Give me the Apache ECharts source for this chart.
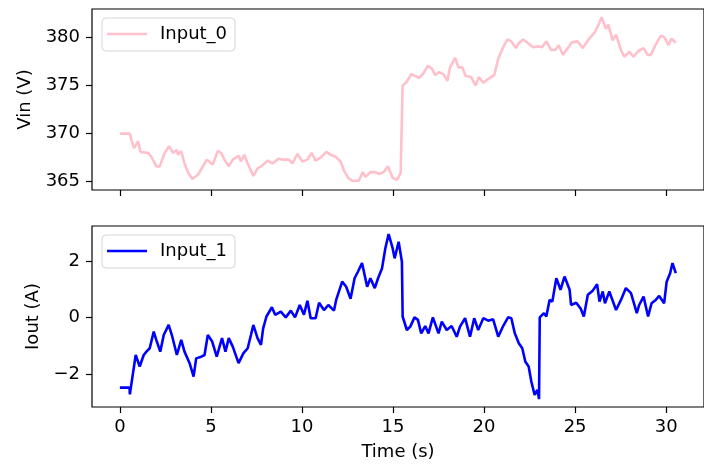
<!DOCTYPE html>
<html>
<head>
<meta charset="utf-8">
<script src="https://cdn.jsdelivr.net/npm/echarts@6/dist/echarts.min.js"></script>
<style>html,body{margin:0;padding:0;background:#fff;}#c{width:704px;height:464px;}</style>
</head>
<body>
<div id="c"></div>
<script>
// ---- data ----
const timeVin = [0,0.55,0.64,0.78,1.0,1.13,1.55,1.73,2.0,2.19,2.46,2.7,2.92,3.13,3.19,3.37,3.55,3.74,3.97,4.28,4.56,4.78,4.96,5.1,5.38,5.56,5.74,5.98,6.2,6.52,6.65,6.83,7.02,7.33,7.56,7.84,8.11,8.38,8.71,8.93,9.29,9.48,9.75,10.02,10.3,10.53,10.75,11.03,11.34,11.57,11.85,12.12,12.3,12.54,12.76,13.12,13.34,13.49,13.76,14.03,14.25,14.49,14.72,14.98,15.22,15.42,15.49,15.53,15.76,16.0,16.22,16.44,16.68,16.91,17.13,17.32,17.53,17.77,17.99,18.13,18.41,18.59,18.81,18.99,19.28,19.54,19.72,19.96,20.23,20.56,20.78,21.05,21.29,21.5,21.74,21.9,22.14,22.42,22.69,22.96,23.18,23.42,23.69,23.91,24.1,24.33,24.6,24.82,25.15,25.42,25.7,26.06,26.28,26.46,26.7,26.83,27.06,27.25,27.52,27.7,27.98,28.21,28.47,28.76,28.98,29.16,29.38,29.71,29.92,30.13,30.29,30.53];
const vin = [370.0,370.0,369.3,368.5,369.2,368.1,368.0,367.6,366.6,366.6,368.0,368.7,368.0,368.3,367.8,368.2,366.9,366.0,365.3,365.7,366.6,367.3,367.0,366.8,368.2,368.0,367.3,366.6,367.3,367.7,367.1,367.8,366.9,365.6,366.4,366.7,367.2,366.9,367.4,367.3,367.3,366.9,367.9,367.1,367.3,368.0,367.2,367.5,368.1,367.8,367.6,367.1,366.2,365.4,365.1,365.1,366.0,365.5,366.0,366.0,365.8,366.0,366.6,365.4,365.2,365.9,365.9,375.0,375.4,376.2,376.0,375.8,376.3,377.05,376.8,376.1,376.4,376.2,375.5,376.9,377.9,376.9,376.9,376.0,375.9,375.0,375.9,375.3,375.7,376.1,377.8,379.0,379.8,379.6,378.9,379.4,379.8,379.4,379.0,379.1,379.0,379.6,378.7,378.7,379.2,378.2,378.9,379.5,379.6,378.9,379.7,380.5,381.3,382.1,380.9,381.35,379.7,380.3,378.7,378.0,378.5,378.0,378.6,378.9,378.2,378.2,379.1,380.2,380.0,379.2,379.9,379.45];

const timeIout = [0,0.53,0.55,0.64,0.87,1.09,1.31,1.46,1.64,1.86,2.0,2.22,2.41,2.68,2.88,3.13,3.37,3.55,3.83,4.05,4.19,4.47,4.65,4.83,5.07,5.32,5.61,5.8,5.98,6.2,6.52,6.78,7.02,7.2,7.33,7.56,7.75,7.87,8.05,8.35,8.53,8.84,9.11,9.39,9.62,9.88,10.11,10.3,10.48,10.75,10.94,11.21,11.45,11.76,11.88,12.21,12.43,12.67,12.89,13.08,13.3,13.58,13.76,14.0,14.18,14.4,14.58,14.76,14.98,15.09,15.31,15.49,15.53,15.76,15.95,16.18,16.37,16.55,16.77,16.95,17.19,17.5,17.68,17.95,18.22,18.5,18.68,18.96,19.23,19.46,19.68,19.96,20.23,20.5,20.78,21.05,21.32,21.5,21.69,21.91,22.1,22.27,22.45,22.6,22.78,22.93,23.02,23.06,23.29,23.42,23.6,23.75,23.97,24.2,24.42,24.7,24.78,25.06,25.3,25.48,25.7,25.97,26.21,26.34,26.52,26.64,26.88,27.25,27.52,27.79,28.07,28.39,28.52,28.76,29.01,29.2,29.43,29.62,29.89,30.03,30.22,30.35,30.53];
const iout = [-2.49,-2.49,-2.73,-2.33,-1.33,-1.74,-1.33,-1.21,-1.09,-0.5,-0.79,-1.21,-0.62,-0.26,-0.68,-1.33,-0.79,-1.21,-1.62,-2.1,-1.45,-1.39,-1.33,-0.62,-0.85,-1.39,-0.73,-1.21,-0.73,-1.03,-1.62,-1.27,-1.09,-0.62,-0.26,-0.73,-0.97,-0.38,0.04,0.37,0.1,0.21,0.01,0.25,0.01,0.45,0.1,0.6,-0.02,-0.02,0.53,0.27,0.45,0.25,0.63,1.28,1.1,0.67,1.4,1.64,1.94,1.1,1.4,1.05,1.4,1.76,2.47,2.97,2.47,2.11,2.7,1.99,0.04,-0.44,-0.32,0.01,-0.08,-0.56,-0.3,-0.56,0.01,-0.56,-0.14,-0.44,-0.3,-0.68,-0.32,-0.02,-0.68,-0.02,-0.44,-0.02,-0.11,-0.06,-0.68,-0.3,0.01,-0.02,-0.56,-0.91,-1.09,-1.57,-1.74,-2.28,-2.75,-2.57,-2.9,0.01,0.16,0.04,0.63,0.57,1.4,0.99,1.46,0.99,0.45,0.53,0.33,0.04,0.81,0.96,1.19,0.57,0.93,0.51,0.93,0.27,0.63,1.05,0.87,0.16,0.45,0.75,0.04,0.51,0.63,0.77,0.51,1.28,1.58,1.94,1.58];

const xTicks = [0,5,10,15,20,25,30];
const vinTicks = [365,370,375,380];
const ioutTicks = [-2,0,2];
const seriesNames = ['Input_0','Input_1'];
const axisNames = {x:'Time (s)', vin:'Vin (V)', iout:'Iout (A)'};

// ---- chart ----
const FONT = 'DejaVu Sans';
const FS = 18;
const fmt = v => String(v).replace('-', '\u2212');
function pairs(xs, ys){ return xs.map((x,i)=>[x, ys[i]]); }

function xAxis(gi, showLabels){
  return {
    type:'value', gridIndex:gi, min:-1.53, max:32.08, position:'bottom',
    splitLine:{show:false},
    axisLine:{show:false, onZero:false},
    axisTick:{show:true, customValues:xTicks, length:6, inside:false, lineStyle:{color:'#000', width:1.2}},
    axisLabel:{show:showLabels, customValues:xTicks, formatter:fmt, margin:11, color:'#000', fontFamily:FONT, fontSize:FS},
    name: showLabels ? axisNames.x : '',
    nameLocation:'middle', nameGap:36,
    nameTextStyle:{color:'#000', fontFamily:FONT, fontSize:FS}
  };
}
function yAxis(gi, mn, mx, ticks, name, gap){
  return {
    type:'value', gridIndex:gi, min:mn, max:mx, position:'left',
    splitLine:{show:false},
    axisLine:{show:false, onZero:false},
    axisTick:{show:true, customValues:ticks, length:6, lineStyle:{color:'#000', width:1.2}},
    axisLabel:{customValues:ticks, formatter:fmt, margin:12, color:'#000', fontFamily:FONT, fontSize:FS},
    name:name, nameLocation:'middle', nameGap:gap, nameRotate:90,
    nameTextStyle:{color:'#000', fontFamily:FONT, fontSize:FS}
  };
}
function legend(name, top, color){
  return {
    data:[name], left:102, top:top, orient:'vertical',
    icon:'rect', itemWidth:40, itemHeight:2.6,
    padding:[7,8,8,5],
    backgroundColor:'rgba(255,255,255,0.8)', borderColor:'#d6d6d6', borderWidth:1, borderRadius:4,
    itemStyle:{color:color},
    textStyle:{color:'#000', fontFamily:FONT, fontSize:FS, padding:[0,0,0,8]}
  };
}

const chart = echarts.init(document.getElementById('c'), null, {renderer:'canvas'});
chart.setOption({
  animation:false,
  backgroundColor:'#fff',
  grid:[
    {left:92, right:-3, top:9, height:181, show:true, borderColor:'#000', borderWidth:1.2, backgroundColor:'transparent'},
    {left:92, right:-3, top:226, height:181, show:true, borderColor:'#000', borderWidth:1.2, backgroundColor:'transparent'}
  ],
  xAxis:[xAxis(0,false), xAxis(1,true)],
  yAxis:[
    yAxis(0, 364.14, 382.97, vinTicks, axisNames.vin, 56),
    yAxis(1, -3.18, 3.26, ioutTicks, axisNames.iout, 48)
  ],
  legend:[legend(seriesNames[0], 18, 'pink'), legend(seriesNames[1], 235, 'blue')],
  series:[
    {name:seriesNames[0], type:'line', xAxisIndex:0, yAxisIndex:0, data:pairs(timeVin, vin), showSymbol:false, symbol:'none', lineStyle:{color:'pink', width:2.6}, itemStyle:{color:'pink'}},
    {name:seriesNames[1], type:'line', xAxisIndex:1, yAxisIndex:1, data:pairs(timeIout, iout), showSymbol:false, symbol:'none', lineStyle:{color:'blue', width:2.6}, itemStyle:{color:'blue'}}
  ]
});
</script>
</body>
</html>
